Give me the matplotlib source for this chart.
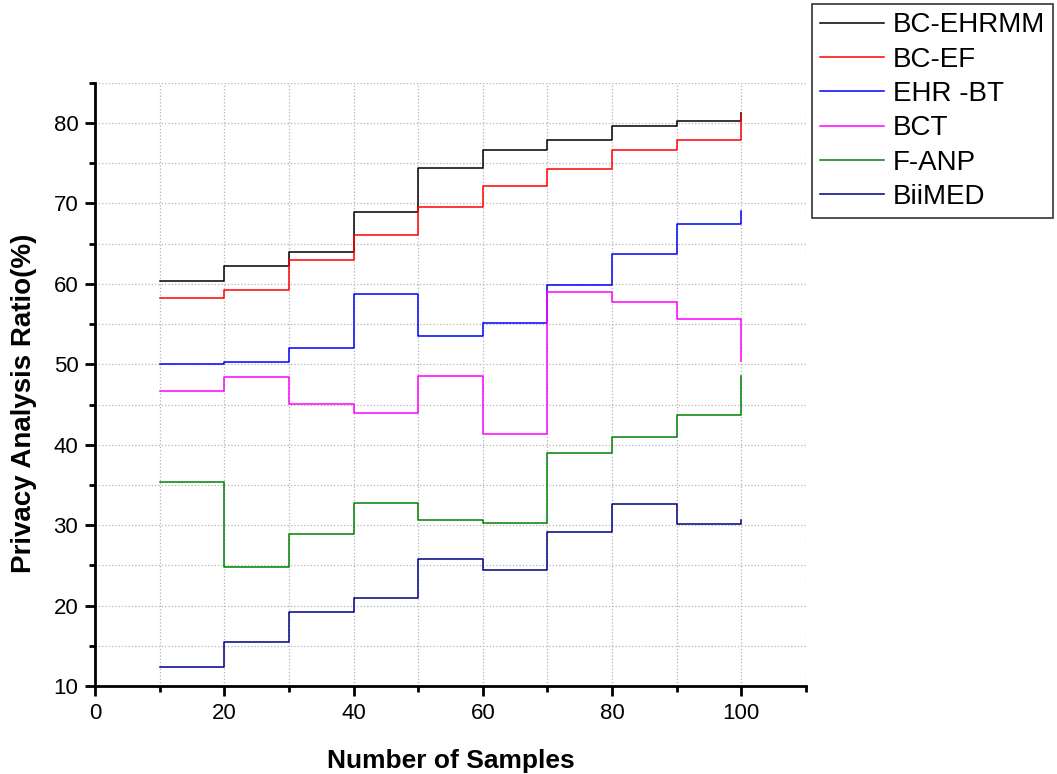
# Libraries
import matplotlib
matplotlib.use('Agg')
import matplotlib.pyplot as plt
from matplotlib.ticker import MultipleLocator

plt.rcParams['font.family'] = ['Liberation Sans', 'DejaVu Sans']

# Data
samples = [10, 20, 30, 40, 50, 60, 70, 80, 90, 100]
bc_ehrmm = [60.3, 62.2, 64.0, 68.9, 74.4, 76.6, 77.9, 79.6, 80.2, 81.2]
bc_ef = [58.2, 59.3, 63.0, 66.1, 69.5, 72.2, 74.3, 76.7, 77.9, 81.0]
ehr_bt = [50.0, 50.3, 52.0, 58.7, 53.5, 55.1, 59.9, 63.7, 67.4, 69.1]
bct = [46.7, 48.4, 45.1, 43.9, 48.5, 41.3, 59.0, 57.8, 55.6, 50.4]
f_anp = [35.4, 24.75, 28.9, 32.8, 30.6, 30.3, 39.0, 41.0, 43.7, 48.5]
biimed = [12.3, 15.5, 19.2, 21.0, 25.8, 24.4, 29.2, 32.6, 30.1, 30.6]

series = [
    ('BC-EHRMM', bc_ehrmm, 'black'),
    ('BC-EF', bc_ef, '#ff0000'),
    ('EHR -BT', ehr_bt, '#0000ff'),
    ('BCT', bct, '#ff00ff'),
    ('F-ANP', f_anp, '#008000'),
    ('BiiMED', biimed, '#000080'),
]

fig = plt.figure(figsize=(10.57, 7.74), dpi=100)
ax = fig.add_axes([0.0899, 0.1137, 0.6726, 0.7793])

for name, vals, col in series:
    ax.step(samples, vals, where='post', color=col, lw=1.1, label=name)

ax.set_xlim(0, 110)
ax.set_ylim(10, 85)
ax.xaxis.set_major_locator(MultipleLocator(20))
ax.xaxis.set_minor_locator(MultipleLocator(10))
ax.yaxis.set_major_locator(MultipleLocator(10))
ax.yaxis.set_minor_locator(MultipleLocator(5))

ax.grid(True, which='both', linestyle=':', color='#b4b4b4', lw=0.9)
ax.set_axisbelow(True)

for s in ['top', 'right']:
    ax.spines[s].set_visible(False)
for s in ['left', 'bottom']:
    ax.spines[s].set_linewidth(2)

ax.tick_params(which='major', direction='out', length=7, width=2, labelsize=16, pad=5)
ax.tick_params(which='minor', direction='out', length=4, width=2)

ax.set_xlabel('Number of Samples', fontsize=19, fontweight='bold', labelpad=18)
ax.set_ylabel('Privacy Analysis Ratio(%)', fontsize=20, fontweight='bold')
ax.yaxis.set_label_coords(-0.082, 0.469)

leg = fig.legend(loc='upper left', bbox_to_anchor=(812 / 1057, 1 - 4 / 774),
                 bbox_transform=fig.transFigure, borderaxespad=0,
                 fontsize=20, frameon=True, fancybox=False, edgecolor='black',
                 handlelength=2.3, handletextpad=0.3, labelspacing=0.3,
                 borderpad=0.3)
leg.get_frame().set_linewidth(1.2)

fig.savefig('out.png', dpi=100)
